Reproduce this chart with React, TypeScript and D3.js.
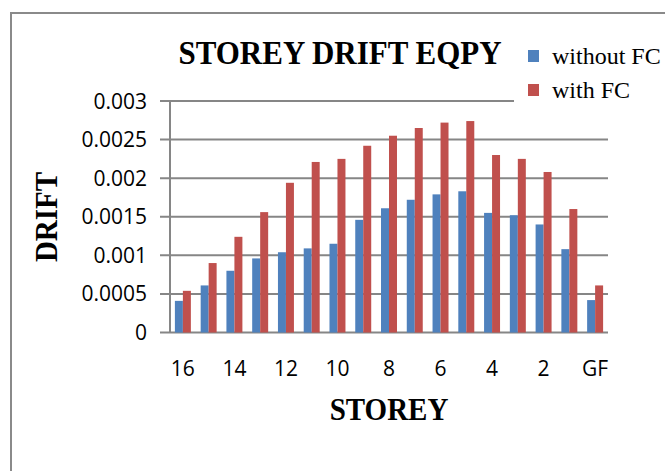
import React from 'react';
import * as d3 from 'd3';

// storeys from top (16) down to ground floor
const storeys = ['16', '15', '14', '13', '12', '11', '10', '9', '8', '7', '6', '5', '4', '3', '2', '1', 'GF'];
const withoutFC = [0.00041, 0.00061, 0.0008, 0.00096, 0.00104, 0.00109, 0.00115, 0.00146, 0.00161, 0.00172, 0.00179, 0.00183, 0.00155, 0.00152, 0.0014, 0.00108, 0.00042];
const withFC = [0.00054, 0.0009, 0.00124, 0.00156, 0.00194, 0.00221, 0.00225, 0.00242, 0.00255, 0.00265, 0.00272, 0.00274, 0.0023, 0.00225, 0.00208, 0.0016, 0.00061];
const yTicks = [0, 0.0005, 0.001, 0.0015, 0.002, 0.0025, 0.003];
const yTickLabels = ['0', '0.0005', '0.001', '0.0015', '0.002', '0.0025', '0.003'];
const seriesNames = ['without FC', 'with FC'];
const seriesColors = ['#4F81BD', '#C0504D'];

const W = 665;
const H = 471;
const plot = { left: 170, right: 608, top: 101, bottom: 332.5 };
const gridColor = '#868686';
const sansFont = "'Open Sans', 'Liberation Sans', sans-serif";
const serifFont = "'Liberation Serif', 'Times New Roman', serif";

const App = () => {
  const x = d3.scaleBand<string>()
    .domain(storeys)
    .range([plot.left, plot.right])
    .paddingInner(0.38)
    .paddingOuter(0.19);

  const sub = d3.scaleBand<string>()
    .domain(seriesNames)
    .range([0, x.bandwidth()]);

  const y = d3.scaleLinear()
    .domain([0, 0.003])
    .range([plot.bottom, plot.top]);

  const series = [withoutFC, withFC];

  return (
    <div style={{ position: 'absolute', left: 0, top: 0 }}>
      <svg width={W} height={H} style={{ display: 'block', background: '#fff' }}>
        {/* outer chart border */}
        <rect x={11} y={13} width={W + 20} height={H + 20} fill="#fff" stroke="#8a8a8a" strokeWidth={2} />

        {/* gridlines + y ticks */}
        {yTicks.map((t, i) => (
          <g key={'g' + i}>
            <line x1={plot.left - 10} x2={plot.right} y1={y(t)} y2={y(t)} stroke={gridColor} strokeWidth={2} />
            <text x={147} y={y(t)} dy="0.36em" textAnchor="end" fontFamily={sansFont} fontSize={21} fill="#000">
              {yTickLabels[i]}
            </text>
          </g>
        ))}
        <line x1={plot.left} x2={plot.left} y1={plot.top} y2={plot.bottom} stroke={gridColor} strokeWidth={2} />

        {/* bars */}
        {series.map((vals, s) =>
          vals.map((v, i) => (
            <rect
              key={s + '-' + i}
              x={(x(storeys[i]) as number) + (sub(seriesNames[s]) as number)}
              y={y(v)}
              width={sub.bandwidth()}
              height={plot.bottom - y(v)}
              fill={seriesColors[s]}
            />
          ))
        )}

        {/* x tick labels, every other storey */}
        {storeys.map((c, i) =>
          i % 2 === 0 ? (
            <text key={'x' + i} x={(x(c) as number) + x.bandwidth() / 2} y={376} textAnchor="middle"
              fontFamily={sansFont} fontSize={21} fill="#000">
              {c}
            </text>
          ) : null
        )}

        {/* titles */}
        <text transform="translate(340,64) scale(1,1.1)" textAnchor="middle" fontFamily={serifFont} fontWeight="bold"
          fontSize={31} fill="#000">
          STOREY DRIFT EQPY
        </text>
        <text transform="translate(389,420) scale(1,1.1)" textAnchor="middle" fontFamily={serifFont} fontWeight="bold"
          fontSize={29} fill="#000">
          STOREY
        </text>
        <text transform="translate(57,217) rotate(-90) scale(1,1.1)" textAnchor="middle" fontFamily={serifFont}
          fontWeight="bold" fontSize={29} fill="#000">
          DRIFT
        </text>

        {/* legend, sits over the top gridline */}
        <rect x={514} y={32} width={160} height={74} fill="#fff" />
        {seriesNames.map((n, i) => (
          <g key={'l' + i} transform={`translate(528,${56 + i * 34})`}>
            <rect x={0} y={-6} width={11} height={12} fill={seriesColors[i]} />
            <text x={24} y={0} dy="0.33em" fontFamily={serifFont} fontSize={24} fill="#000">{n}</text>
          </g>
        ))}
      </svg>
    </div>
  );
};

export default App;
